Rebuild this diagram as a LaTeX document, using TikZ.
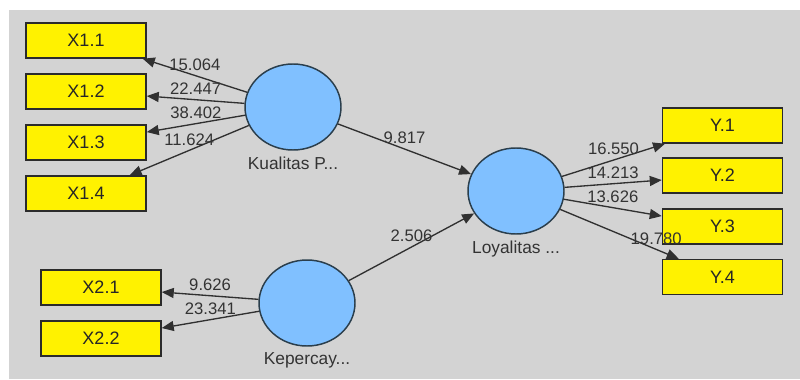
\documentclass[tikz,border=0pt]{standalone}
\usepackage{fontspec}
\setmainfont{Liberation Sans}
\usetikzlibrary{shapes.geometric,arrows.meta}
\definecolor{bggray}{HTML}{D3D3D3}
\definecolor{latblue}{HTML}{80C0FF}
\definecolor{latline}{HTML}{2A3E4C}
\definecolor{boxline}{HTML}{2B2B2B}
\definecolor{arrline}{HTML}{303030}
\definecolor{txt}{HTML}{333333}

\begin{document}
\begin{tikzpicture}[x=0.75pt,y=-0.75pt,
    ind/.style={draw=boxline,line width=1.1pt,fill=yellow,minimum width=90pt,minimum height=26.25pt,inner sep=0pt,font=\fontsize{13.5}{16}\selectfont,text=black!85},
    lat/.style={ellipse,draw=latline,line width=1.1pt,fill=latblue,minimum width=72pt,minimum height=64.5pt,inner sep=0pt},
    lname/.style={font=\fontsize{13}{15}\selectfont,text=txt,inner sep=0pt,yshift=-4.5pt},
    arr/.style={draw=arrline,line width=1pt,-{Triangle[length=9pt,width=7.5pt]}},
    coef/.style={midway,yshift=8.25pt,inner sep=0pt,font=\fontsize{12.5}{14}\selectfont,text=txt}]
    \useasboundingbox (0,0) rectangle (800,379);
    \fill[bggray] (9,10) rectangle (800,379);

    % indicators
    \node[ind] (x11) at (86,40.5) {X1.1};
    \node[ind] (x12) at (86,91.5) {X1.2};
    \node[ind] (x13) at (86,142.5) {X1.3};
    \node[ind] (x14) at (86,193.5) {X1.4};
    \node[ind] (x21) at (101,287.5) {X2.1};
    \node[ind] (x22) at (101,338.5) {X2.2};
    \node[ind] (y1) at (722.5,125.5) {Y.1};
    \node[ind] (y2) at (722.5,175.5) {Y.2};
    \node[ind] (y3) at (722.5,226.5) {Y.3};
    \node[ind] (y4) at (722.5,277) {Y.4};

    % latent variables
    \node[lat,label={[lname]below:Kualitas P...}] (kp) at (293,107) {};
    \node[lat,label={[lname]below:Loyalitas ...}] (ly) at (516,191) {};
    \node[lat,label={[lname]below:Kepercay...}] (kc) at (307,303) {};

    % outer model
    \draw[arr] (kp) -- node[coef]{15.064} (x11);
    \draw[arr] (kp) -- node[coef]{22.447} (x12);
    \draw[arr] (kp) -- node[coef]{38.402} (x13);
    \draw[arr] (kp) -- node[coef]{11.624} (x14);
    \draw[arr] (kc) -- node[coef]{9.626} (x21);
    \draw[arr] (kc) -- node[coef]{23.341} (x22);
    \draw[arr] (ly) -- node[coef]{16.550} (y1);
    \draw[arr] (ly) -- node[coef]{14.213} (y2);
    \draw[arr] (ly) -- node[coef]{13.626} (y3);
    \draw[arr] (ly) -- node[coef,pos=0.81]{19.780} (y4);

    % inner model
    \draw[arr] (kp) -- node[coef]{9.817} (ly);
    \draw[arr] (kc) -- node[coef]{2.506} (ly);
\end{tikzpicture}
\end{document}
